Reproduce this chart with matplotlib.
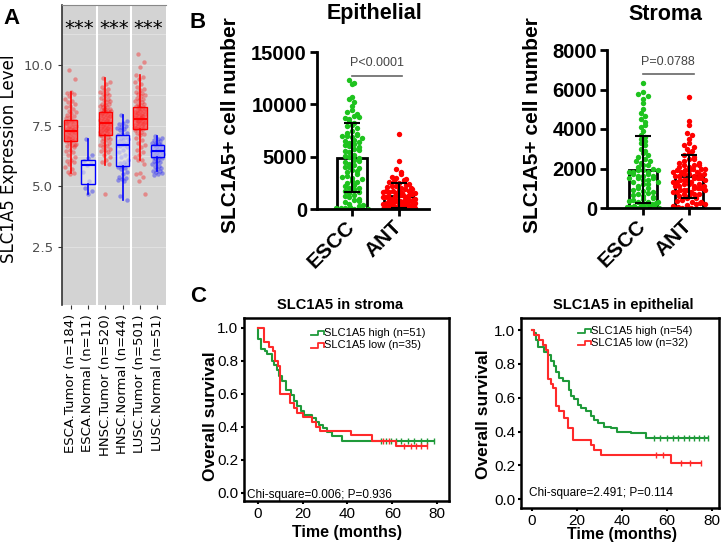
import numpy as np
import matplotlib.pyplot as plt
from matplotlib.lines import Line2D

# ---------------- panel A data (TIMER style box plots) ----------------
a_labels = ['ESCA.Tumor (n=184)', 'ESCA.Normal (n=11)', 'HNSC.Tumor (n=520)',
            'HNSC.Normal (n=44)', 'LUSC.Tumor (n=501)', 'LUSC.Normal (n=51)']
box_med = [7.27, 5.87, 7.61, 6.72, 7.79, 6.45]
box_q1 = [6.88, 5.08, 7.13, 5.85, 7.34, 6.22]
box_q3 = [7.72, 6.07, 8.05, 7.13, 8.27, 6.69]
box_lo = [5.55, 4.68, 5.87, 4.43, 6.07, 5.63]
box_hi = [8.9, 6.93, 9.47, 7.95, 9.6, 7.06]

esca_tumor = [9.8, 9.4, 8.9, 8.85, 8.8, 8.7, 8.6, 8.5, 8.45, 8.4, 8.3, 8.25, 8.2, 8.1, 8.05,
              8.0, 7.95, 7.9, 7.85, 7.8, 7.75, 7.7, 7.68, 7.65, 7.6, 7.55, 7.5, 7.48, 7.45,
              7.4, 7.38, 7.35, 7.3, 7.28, 7.25, 7.22, 7.2, 7.15, 7.1, 7.08, 7.05, 7.0, 6.98,
              6.95, 6.9, 6.88, 6.85, 6.8, 6.75, 6.7, 6.65, 6.6, 6.5, 6.45, 6.4, 6.3, 6.2,
              6.1, 6.05, 6.0, 5.9, 5.8, 5.7, 5.6, 5.55, 5.5, 7.6, 7.3, 7.0, 6.7]
esca_normal = [6.93, 6.3, 6.15, 6.05, 5.95, 5.87, 5.6, 5.2, 4.95, 4.8, 4.68]
hnsc_tumor = [9.47, 9.3, 9.2, 9.1, 9.0, 8.95, 8.9, 8.85, 8.8, 8.75, 8.7, 8.65, 8.6, 8.55,
              8.5, 8.45, 8.4, 8.38, 8.35, 8.3, 8.28, 8.25, 8.2, 8.18, 8.15, 8.12, 8.1, 8.08,
              8.05, 8.02, 8.0, 7.98, 7.95, 7.92, 7.9, 7.88, 7.85, 7.82, 7.8, 7.78, 7.75,
              7.72, 7.7, 7.68, 7.65, 7.62, 7.6, 7.58, 7.55, 7.52, 7.5, 7.48, 7.45, 7.42,
              7.4, 7.38, 7.35, 7.32, 7.3, 7.28, 7.25, 7.22, 7.2, 7.18, 7.15, 7.12, 7.1,
              7.05, 7.0, 6.95, 6.9, 6.85, 6.8, 6.75, 6.7, 6.65, 6.6, 6.55, 6.5, 6.45, 6.4,
              6.3, 6.2, 6.1, 6.0, 5.9, 4.7, 7.6, 7.7, 7.5, 7.9, 7.3, 8.0, 7.4, 8.2, 7.1]
hnsc_normal = [7.95, 7.7, 7.6, 7.55, 7.5, 7.45, 7.4, 7.35, 7.3, 7.2, 7.15, 7.1, 7.05, 7.0,
               6.95, 6.9, 6.85, 6.8, 6.75, 6.72, 6.7, 6.65, 6.6, 6.5, 6.4, 6.3, 6.2, 6.1,
               6.0, 5.95, 5.9, 5.85, 5.8, 5.75, 5.7, 5.6, 5.5, 5.4, 5.35, 5.3, 5.25, 5.2,
               4.6, 4.43]
lusc_tumor = [10.45, 10.1, 9.9, 9.6, 9.5, 9.4, 9.3, 9.2, 9.1, 9.0, 8.95, 8.9, 8.85, 8.8,
              8.75, 8.7, 8.65, 8.6, 8.55, 8.5, 8.45, 8.4, 8.38, 8.35, 8.3, 8.28, 8.25, 8.2,
              8.18, 8.15, 8.1, 8.08, 8.05, 8.02, 8.0, 7.98, 7.95, 7.92, 7.9, 7.88, 7.85,
              7.82, 7.8, 7.78, 7.75, 7.72, 7.7, 7.68, 7.65, 7.62, 7.6, 7.58, 7.55, 7.52,
              7.5, 7.48, 7.45, 7.42, 7.4, 7.38, 7.35, 7.3, 7.25, 7.2, 7.15, 7.1, 7.0, 6.9,
              6.8, 6.7, 6.6, 6.5, 6.4, 6.3, 6.2, 6.1, 6.07, 5.9, 5.55, 5.5, 5.4, 5.2, 4.7,
              7.8, 8.0, 7.6, 8.2, 7.4, 7.9, 7.7]
lusc_normal = [7.06, 7.0, 6.95, 6.9, 6.85, 6.8, 6.78, 6.75, 6.72, 6.7, 6.68, 6.65, 6.62,
               6.6, 6.58, 6.55, 6.52, 6.5, 6.48, 6.46, 6.45, 6.44, 6.42, 6.4, 6.38, 6.36,
               6.35, 6.33, 6.3, 6.28, 6.26, 6.25, 6.22, 6.2, 6.18, 6.15, 6.1, 6.05, 6.0,
               5.95, 5.9, 5.85, 5.8, 5.75, 5.7, 5.65, 5.63, 5.6, 5.55, 5.5, 5.45]

# ---------------- panel B data (cell counts per patient) ----------------
b_groups = ['ESCC', 'ANT']
epi_escc = [12300, 12000, 11900, 10700, 10500, 10200, 9800, 9500, 9300, 9100, 8900, 8700,
            8600, 8400, 8200, 8000, 7900, 7700, 7500, 7300, 7200, 7100, 7000, 7000, 6900,
            6800, 6600, 6500, 6300, 6200, 6100, 6000, 5900, 5700, 5500, 5400, 5200, 5100,
            5000, 4900, 4700, 4500, 4300, 4200, 4000, 4000, 3900, 3700, 3500, 3300, 3200,
            3100, 3000, 2900, 2700, 2500, 2300, 2200, 2000, 2000, 1900, 1700, 1500, 1300,
            1200, 1100, 1000, 900, 700, 500, 400, 300, 200, 100, 100, 50, 0, 0, 6400, 5600,
            4600, 3600, 2600, 1600, 800, 8800]
epi_ant = [7200, 4600, 3800, 3500, 3300, 3100, 3000, 2900, 2800, 2700, 2600, 2500, 2400,
           2300, 2200, 2200, 2100, 2000, 2000, 1900, 1900, 1800, 1700, 1700, 1600, 1600,
           1500, 1500, 1400, 1400, 1300, 1300, 1200, 1200, 1100, 1100, 1000, 1000, 900, 900,
           800, 800, 700, 700, 600, 600, 500, 500, 900, 700, 400, 400, 350, 300, 300, 250,
           200, 200, 150, 100, 100, 50, 0, 0, 400, 300, 200, 100, 0, 0, 1300, 1100, 900,
           800, 600, 500, 400, 300, 200, 100, 1700, 1500, 1200, 1000, 800, 600]
str_escc = [6350, 5850, 5750, 5650, 5500, 5300, 4800, 4650, 4500, 4350, 4100, 3900, 3700,
            3500, 3400, 3300, 3200, 3000, 2900, 2800, 2600, 2500, 2400, 2300, 2200, 2100,
            2000, 1900, 1800, 1700, 1600, 1500, 1400, 1300, 1200, 1100, 1000, 1800, 1500,
            1200, 1000, 900, 850, 800, 750, 700, 650, 600, 550, 500, 450, 400, 350, 300, 300,
            250, 200, 200, 150, 100, 100, 50, 50, 0, 0, 0, 0, 1900, 1800, 1700, 1600, 1500,
            1400, 300, 200, 100, 0, 2700, 2200, 1600, 1300, 3600, 4200, 5000, 1900, 2400]
str_ant = [5600, 4400, 4200, 3800, 3700, 3500, 3300, 3200, 3100, 3000, 2900, 2800, 2700,
           2600, 2500, 2400, 2300, 2200, 2200, 2100, 2100, 2000, 2000, 2500, 2300, 1900,
           1900, 1800, 1800, 1700, 1700, 1600, 1600, 1500, 1500, 1900, 1700, 1400, 1400,
           1300, 1300, 1200, 1200, 1100, 1100, 1000, 1000, 1400, 1200, 1100, 900, 900, 800,
           800, 700, 700, 600, 600, 500, 500, 900, 800, 700, 400, 350, 300, 250, 200, 150,
           100, 50, 0, 0, 300, 200, 1600, 1800, 2000, 1300, 1000, 1500, 2200, 1700, 900,
           1100, 1400]

# ---------------- panel C data (Kaplan-Meier steps, months) ----------------
str_hi_t = [0, 0.2, 1.3, 3.1, 4.3, 6.5, 7.3, 8.8, 9.5, 11, 12.5, 14.7, 16.2, 17.7, 19.2,
            20.7, 24, 26, 27.5, 29, 31, 33, 37.8]
str_hi_s = [1.0, 0.93, 0.87, 0.86, 0.84, 0.80, 0.775, 0.745, 0.705, 0.675, 0.625, 0.594,
            0.554, 0.524, 0.493, 0.473, 0.45, 0.43, 0.41, 0.39, 0.37, 0.345, 0.315]
str_hi_end = 78.4
str_hi_cens = [54.9, 57.1, 59.4, 61.6, 63.8, 66.8, 69.8, 72.8, 75.7, 78.4]
str_lo_t = [0, 2.8, 5, 6.8, 7.8, 9, 10, 14.4, 16.2, 17.7, 20, 24.4, 26, 28, 41.5, 51, 61.6]
str_lo_s = [1.0, 0.914, 0.886, 0.857, 0.8, 0.77, 0.6, 0.545, 0.515, 0.485, 0.46, 0.43,
            0.40, 0.372, 0.347, 0.315, 0.285]
str_lo_end = 75.5
str_lo_cens = [56.0, 58.5, 65.3, 68.3, 70.5, 72.8, 75.4]

epi_hi_t = [0, 1.2, 1.9, 2.7, 5.6, 7.1, 8.6, 10, 10.8, 12.2, 13.7, 16.7, 17.4, 18.9, 20.4,
            21.8, 24, 26.3, 27.7, 29.2, 32.2, 35.1, 38, 44, 50.6]
epi_hi_s = [1.0, 0.98, 0.94, 0.90, 0.87, 0.85, 0.82, 0.785, 0.755, 0.717, 0.70, 0.648,
            0.61, 0.59, 0.56, 0.54, 0.52, 0.49, 0.47, 0.45, 0.43, 0.42, 0.40, 0.39, 0.362]
epi_hi_end = 78
epi_hi_cens = [54, 57, 60, 62.4, 64.6, 67.5, 69.8, 72, 74, 76.4, 78]
epi_lo_t = [0, 1.2, 3.4, 4.9, 6.3, 7.1, 8.6, 9.3, 10.8, 12.2, 14.5, 15.9, 18.1, 26.3, 27.7,
            30.7, 61.7]
epi_lo_s = [1.0, 0.97, 0.94, 0.91, 0.88, 0.71, 0.68, 0.66, 0.55, 0.52, 0.48, 0.42, 0.35,
            0.32, 0.29, 0.26, 0.213]
epi_lo_end = 75
epi_lo_cens = [55, 58, 66, 70, 75]

W, H = 725, 548
ARIAL = 'Liberation Sans'
RED = '#ff0000'
GREEN = '#1ec31e'
KM_GREEN = '#1f9a3a'
KM_RED = '#ff2a2a'

fig = plt.figure(figsize=(W / 100, H / 100), dpi=100)


def px_axes(l, t, r, b):
    return fig.add_axes([l / W, 1 - b / H, (r - l) / W, (b - t) / H])


def ftext(x, y, s, **kw):
    fig.text(x / W, 1 - y / H, s, **kw)


def fline(xs, ys, **kw):
    fig.add_artist(Line2D([x / W for x in xs], [1 - y / H for y in ys],
                          transform=fig.transFigure, **kw))


# ================= panel A =================
axA = px_axes(62, 5, 166, 305)
axA.set_facecolor('#d3d3d3')
groupsA = [esca_tumor, esca_normal, hnsc_tumor, hnsc_normal, lusc_tumor, lusc_normal]
colA = ['red', 'blue'] * 3
for i, vals in enumerate(groupsA):
    n = len(vals)
    jit = ((np.arange(n) * 0.618034 + 0.3) % 1 - 0.5) * 0.62
    axA.scatter(i + 1 + jit, vals, s=10, color=colA[i], alpha=0.35, lw=0, zorder=2)

stats = [dict(med=box_med[i], q1=box_q1[i], q3=box_q3[i], whislo=box_lo[i],
              whishi=box_hi[i], fliers=[]) for i in range(6)]
bp = axA.bxp(stats, positions=range(1, 7), widths=0.78, patch_artist=True,
             showfliers=False, showcaps=False, zorder=3)
for i, box in enumerate(bp['boxes']):
    if colA[i] == 'red':
        box.set_facecolor((1, 0.3, 0.3, 0.55))
    else:
        box.set_facecolor((0.93, 0.93, 0.93, 0.55))
    box.set_edgecolor(colA[i])
    box.set_linewidth(1)
for i, m in enumerate(bp['medians']):
    m.set_color(colA[i])
    m.set_linewidth(1.5)
for i, w in enumerate(bp['whiskers']):
    w.set_color(colA[i // 2])
    w.set_linewidth(1.2)

for xv in [2.5, 4.5]:
    axA.axvline(xv, color='white', lw=1.5, zorder=1)
axA.set_xlim(0.5, 6.5)
axA.set_ylim(0.12, 12.46)
axA.set_yticks([2.5, 5, 7.5, 10])
axA.set_yticklabels(['2.5', '5.0', '7.5', '10.0'])
axA.set_yticks([3.75, 6.25, 8.75, 11.25], minor=True)
axA.yaxis.grid(True, which='both', color='white', alpha=0.3, lw=0.8)
axA.set_axisbelow(True)
axA.tick_params(axis='y', which='major', labelsize=9.5, labelcolor='#4d4d4d', length=3,
                color='#333333')
axA.tick_params(axis='y', which='minor', length=0)
axA.set_xticks(range(1, 7))
axA.set_xticklabels(a_labels, rotation=90, fontsize=9.5)
axA.tick_params(axis='x', length=3, color='#333333')
axA.spines['right'].set_visible(False)
axA.spines['bottom'].set_visible(False)
axA.spines['left'].set_color('#333333')
axA.spines['left'].set_linewidth(1.2)
axA.spines['top'].set_color('#888888')
ftext(9, 159, 'SLC1A5 Expression Level', rotation=90, ha='center', va='center', fontsize=12)
for cx in [1.5, 3.5, 5.5]:
    axA.text(cx, 11.5, '***', ha='center', va='center', fontsize=14)


# ================= panel B =================
def swarm(vals, center, ystep, xstep, maxw):
    vals = np.asarray(vals, float)
    xs = np.zeros(len(vals))
    bins = np.floor(vals / ystep).astype(int)
    for b in np.unique(bins):
        idx = np.where(bins == b)[0]
        k = len(idx)
        step = min(xstep, 2 * maxw / max(k - 1, 1))
        offs = (np.arange(k) - (k - 1) / 2) * step
        order = np.argsort(np.abs(offs))
        xs[idx[order]] = center + offs
    return xs


def bar_panel(ax, esc, ant, ymax, ystep, ptxt, sig_y, txt_y, sig_x1):
    for i, (vals, c) in enumerate([(esc, GREEN), (ant, RED)]):
        m = np.mean(vals)
        sd = np.std(vals, ddof=1)
        ax.bar(i, m, width=0.62, facecolor='white', edgecolor='black', lw=2, zorder=1)
        xs = swarm(vals, i, ymax * 5 / 157, 0.105, 0.34)
        ax.scatter(xs, vals, s=15, color=c, lw=0, zorder=2)
        ax.errorbar(i, m, yerr=sd, fmt='none', ecolor='black', elinewidth=1.5,
                    capsize=5.5, capthick=1.5, zorder=3)
    ax.plot([0, sig_x1], [sig_y, sig_y], color='#666666', lw=1.2)
    ax.text(sig_x1 / 2, txt_y, ptxt, ha='center', va='center', fontsize=9,
            color='#444444', family=ARIAL)
    ax.set_ylim(0, ymax)
    ax.set_yticks(np.arange(0, ymax + 1, ystep))
    ax.set_xticks([0, 1])
    ax.set_xticklabels(b_groups, rotation=45, ha='right', va='center',
                       rotation_mode='anchor')
    for s in ['top', 'right']:
        ax.spines[s].set_visible(False)
    for s in ['left', 'bottom']:
        ax.spines[s].set_linewidth(2)
    ax.tick_params(axis='y', length=5, width=2, labelsize=14.5, pad=2)
    ax.tick_params(axis='x', length=5, width=2, labelsize=15, pad=6)
    for lab in ax.get_yticklabels() + ax.get_xticklabels():
        lab.set_fontweight('bold')
        lab.set_family(ARIAL)


axB1 = px_axes(316.7, 52, 429, 209)
axB1.set_xlim(-0.75, 1.64)
bar_panel(axB1, epi_escc, epi_ant, 15000, 5000, 'P<0.0001', 12700, 13950, 1.06)
axB2 = px_axes(606.7, 50, 719, 208)
axB2.set_xlim(-0.79, 1.65)
bar_panel(axB2, str_escc, str_ant, 8000, 2000, 'P=0.0788', 6785, 7392, 1.1)

ftext(375, 14, 'Epithelial', ha='center', va='center', fontsize=15.5, fontweight='bold',
      family=ARIAL)
ftext(665, 14, 'Stroma', ha='center', va='center', fontsize=15.5, fontweight='bold',
      family=ARIAL)
ftext(231, 125, 'SLC1A5+ cell number', rotation=90, ha='center', va='center',
      fontsize=15, fontweight='bold', family=ARIAL)
ftext(533, 125, 'SLC1A5+ cell number', rotation=90, ha='center', va='center',
      fontsize=15, fontweight='bold', family=ARIAL)


# ================= panel C =================
def km_panel(ax, curves, xlim, ylim):
    for t, s, end, cens, c in curves:
        ax.step(list(t) + [end], list(s) + [s[-1]], where='post', color=c, lw=1.5)
        idx = np.searchsorted(t, cens, side='right') - 1
        lev = np.asarray(s)[idx]
        ax.plot(cens, lev, ls='none', marker='|', ms=4, mew=1, color=c)
    ax.set_xlim(*xlim)
    ax.set_ylim(*ylim)
    ax.set_xticks([0, 20, 40, 60, 80])
    ax.set_yticks([0, 0.2, 0.4, 0.6, 0.8, 1.0])
    ax.set_yticklabels(['0.0', '0.2', '0.4', '0.6', '0.8', '1.0'])
    for sp in ax.spines.values():
        sp.set_linewidth(1.8)
    ax.tick_params(length=2.5, width=1.5, labelsize=11, pad=1.5)
    for lab in ax.get_yticklabels() + ax.get_xticklabels():
        lab.set_family(ARIAL)


axC1 = px_axes(244, 318, 449, 501)
km_panel(axC1, [(str_hi_t, str_hi_s, str_hi_end, str_hi_cens, KM_GREEN),
                (str_lo_t, str_lo_s, str_lo_end, str_lo_cens, KM_RED)],
         (-6.1, 85.3), (-0.05, 1.059))
axC2 = px_axes(521, 318, 719, 508)
km_panel(axC2, [(epi_hi_t, epi_hi_s, epi_hi_end, epi_hi_cens, KM_GREEN),
                (epi_lo_t, epi_lo_s, epi_lo_end, epi_lo_cens, KM_RED)],
         (-4.74, 82.97), (-0.051, 1.071))

for cx, title in [(340, 'SLC1A5 in stroma'), (623, 'SLC1A5 in epithelial')]:
    ftext(cx, 305, title, ha='center', va='center', fontsize=10.5, fontweight='bold',
          family=ARIAL)
for cx, cy in [(210, 416), (484, 414)]:
    ftext(cx, cy, 'Overall survival', rotation=90, ha='center', va='center', fontsize=12.5,
          fontweight='bold', family=ARIAL)
for cx, cy in [(347, 532), (622, 534)]:
    ftext(cx, cy, 'Time (months)', ha='center', va='center', fontsize=11.5,
          fontweight='bold', family=ARIAL)

# legends
for x0, ys, labels in [(310.7, (333, 345.5), ('SLC1A5 high (n=51)', 'SLC1A5 low (n=35)')),
                       (577.7, (331, 343), ('SLC1A5 high (n=54)', 'SLC1A5 low (n=32)'))]:
    for y, lab, c in zip(ys, labels, [KM_GREEN, KM_RED]):
        fline([x0, x0 + 7, x0 + 7, x0 + 13, x0 + 13], [y + 2, y + 2, y - 2.5, y - 2.5, y + 1],
              color=c, lw=1.3)
        ftext(x0 + 13.5, y, lab, ha='left', va='center', fontsize=8, family=ARIAL)
ftext(246.7, 494.7, 'Chi-square=0.006; P=0.936', ha='left', va='center', fontsize=8.5,
      family=ARIAL)
ftext(529.3, 493, 'Chi-square=2.491; P=0.114', ha='left', va='center', fontsize=8.5,
      family=ARIAL)

# panel letters
for x, y, s in [(11, 19, 'A'), (197.5, 22, 'B'), (198, 296, 'C')]:
    ftext(x, y, s, ha='center', va='center', fontsize=16, fontweight='bold', family=ARIAL)

fig.savefig('out.png', dpi=100)
